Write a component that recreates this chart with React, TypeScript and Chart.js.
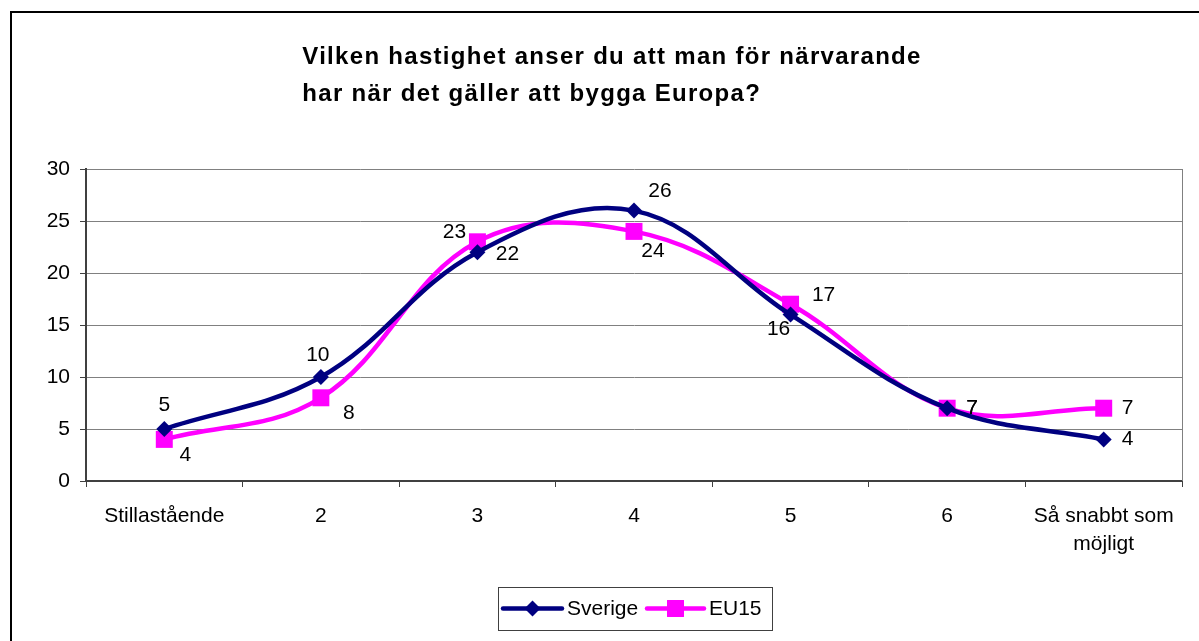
import React, { useEffect, useRef } from "react";
import { Chart, registerables } from "chart.js";

Chart.register(...registerables);

const categories: (string | string[])[] = ["Stillastående", "2", "3", "4", "5", "6", ["Så snabbt som", "möjligt"]];
const sverige = [5, 10, 22, 26, 16, 7, 4];
const eu15 = [4, 8, 23, 24, 17, 7, 7];
const seriesNames = ["Sverige", "EU15"];
const titleLines = ["Vilken hastighet anser du att man för närvarande", "har när det gäller att bygga Europa?"];
const yMin = 0;
const yMax = 30;
const yStep = 5;

// label placement offsets (style only)
const labelOffsets = [
  [[0, -24], [-3, -22], [30, 2], [26, -19], [-12, 15], [25, 0], [24, 0]],
  [[21, 16], [28, 15], [-23, -10], [19, 20], [33, -9], [25, 0], [24, 0]],
];

const FONT = '"Liberation Sans", Arial, sans-serif';
const NAVY = "#000080";
const MAGENTA = "#FF00FF";
const TXT = 21;

const decorPlugin = {
  id: "decor",
  beforeDraw(chart: any) {
    const ctx = chart.ctx;
    ctx.save();
    ctx.fillStyle = "#ffffff";
    ctx.fillRect(0, 0, chart.width, chart.height);
    ctx.strokeStyle = "#000000";
    ctx.lineWidth = 2;
    ctx.strokeRect(11, 12, chart.width + 50, chart.height + 50);
    // title
    ctx.fillStyle = "#000000";
    ctx.font = `bold 24px ${FONT}`;
    (ctx as any).letterSpacing = "1.3px";
    const widths = titleLines.map((l) => ctx.measureText(l).width);
    const maxW = Math.max(...widths);
    const cx = 612;
    ctx.textAlign = "left";
    ctx.textBaseline = "alphabetic";
    titleLines.forEach((l, i) => ctx.fillText(l, cx - maxW / 2, 64 + i * 37));
    (ctx as any).letterSpacing = "0px";
    ctx.restore();
  },
  beforeDatasetsDraw(chart: any) {
    const ctx = chart.ctx;
    const a = chart.chartArea;
    ctx.save();
    ctx.strokeStyle = "#808080";
    ctx.lineWidth = 1;
    ctx.beginPath();
    ctx.moveTo(a.right + 0.5, a.top);
    ctx.lineTo(a.right + 0.5, a.bottom);
    ctx.stroke();
    ctx.restore();
  },
  afterDatasetsDraw(chart: any) {
    const ctx = chart.ctx;
    ctx.save();
    ctx.fillStyle = "#000000";
    ctx.font = `${TXT}px ${FONT}`;
    ctx.textAlign = "center";
    ctx.textBaseline = "middle";
    chart.data.datasets.forEach((ds: any, di: number) => {
      const meta = chart.getDatasetMeta(di);
      meta.data.forEach((el: any, i: number) => {
        const off = labelOffsets[di][i];
        ctx.fillText(String(ds.data[i]), el.x + off[0], el.y + off[1]);
      });
    });
    ctx.restore();
  },
  afterDraw(chart: any) {
    const ctx = chart.ctx;
    ctx.save();
    // legend box
    const bx = 498, by = 587, bw = 274, bh = 43;
    ctx.strokeStyle = "#404040";
    ctx.lineWidth = 1;
    ctx.strokeRect(bx + 0.5, by + 0.5, bw, bh);
    const cy = by + bh / 2;
    ctx.font = `${TXT}px ${FONT}`;
    ctx.textBaseline = "middle";
    ctx.textAlign = "left";
    const items = [
      { x0: 503, x1: 562, color: NAVY, style: "rectRot", r: 8, name: seriesNames[0], tx: 567 },
      { x0: 647, x1: 704, color: MAGENTA, style: "rect", r: 12, name: seriesNames[1], tx: 709 },
    ];
    items.forEach((it) => {
      ctx.strokeStyle = it.color;
      ctx.lineWidth = 4.5;
      ctx.lineCap = "round";
      ctx.beginPath();
      ctx.moveTo(it.x0, cy);
      ctx.lineTo(it.x1, cy);
      ctx.stroke();
      ctx.fillStyle = it.color;
      ctx.beginPath();
      const mx = (it.x0 + it.x1) / 2;
      if (it.style === "rectRot") {
        ctx.moveTo(mx - it.r, cy);
        ctx.lineTo(mx, cy - it.r);
        ctx.lineTo(mx + it.r, cy);
        ctx.lineTo(mx, cy + it.r);
        ctx.closePath();
      } else {
        const s = it.r * Math.SQRT1_2;
        ctx.rect(mx - s, cy - s, 2 * s, 2 * s);
      }
      ctx.fill();
      ctx.fillStyle = "#000000";
      ctx.fillText(it.name, it.tx, cy + 1);
    });
    ctx.restore();
  },
};

export default function App() {
  const ref = useRef<HTMLCanvasElement | null>(null);
  useEffect(() => {
    if (!ref.current) return;
    const chart = new Chart(ref.current, {
      type: "line",
      data: {
        labels: categories,
        datasets: [
          {
            label: seriesNames[0],
            data: sverige,
            borderColor: NAVY,
            backgroundColor: NAVY,
            borderWidth: 4.5,
            pointStyle: "rectRot",
            pointRadius: 8,
            pointBorderWidth: 0,
            tension: 0.38,
          },
          {
            label: seriesNames[1],
            data: eu15,
            borderColor: MAGENTA,
            backgroundColor: MAGENTA,
            borderWidth: 4.5,
            pointStyle: "rect",
            pointRadius: 12,
            pointBorderWidth: 0,
            tension: 0.38,
          },
        ],
      },
      options: {
        responsive: false,
        animation: false,
        events: [],
        layout: { padding: { top: 169, left: 0, right: 17, bottom: 0 } },
        plugins: {
          legend: { display: false },
          title: { display: false },
          tooltip: { enabled: false },
        },
        scales: {
          x: {
            offset: true,
            grid: {
              offset: true,
              drawOnChartArea: false,
              drawTicks: true,
              tickLength: 6,
              tickColor: "#404040",
              tickWidth: 1,
            },
            border: { color: "#404040", width: 2 },
            ticks: {
              color: "#000000",
              font: { family: FONT, size: TXT, lineHeight: 1.3 },
              padding: 16,
              maxRotation: 0,
              autoSkip: false,
            },
            afterFit(scale: any) {
              scale.height = 160;
            },
          },
          y: {
            min: yMin,
            max: yMax,
            ticks: {
              stepSize: yStep,
              color: "#000000",
              font: { family: FONT, size: TXT },
              padding: 10,
            },
            grid: {
              color: "#808080",
              lineWidth: 1,
              tickLength: 6,
              tickColor: "#404040",
            },
            border: { color: "#404040", width: 2 },
            afterFit(scale: any) {
              scale.width = 86;
            },
          },
        },
      },
      plugins: [decorPlugin],
    });
    return () => chart.destroy();
  }, []);
  return (
    <canvas
      ref={ref}
      width={1199}
      height={641}
      style={{ position: "absolute", left: 0, top: 0, display: "block" }}
    />
  );
}
